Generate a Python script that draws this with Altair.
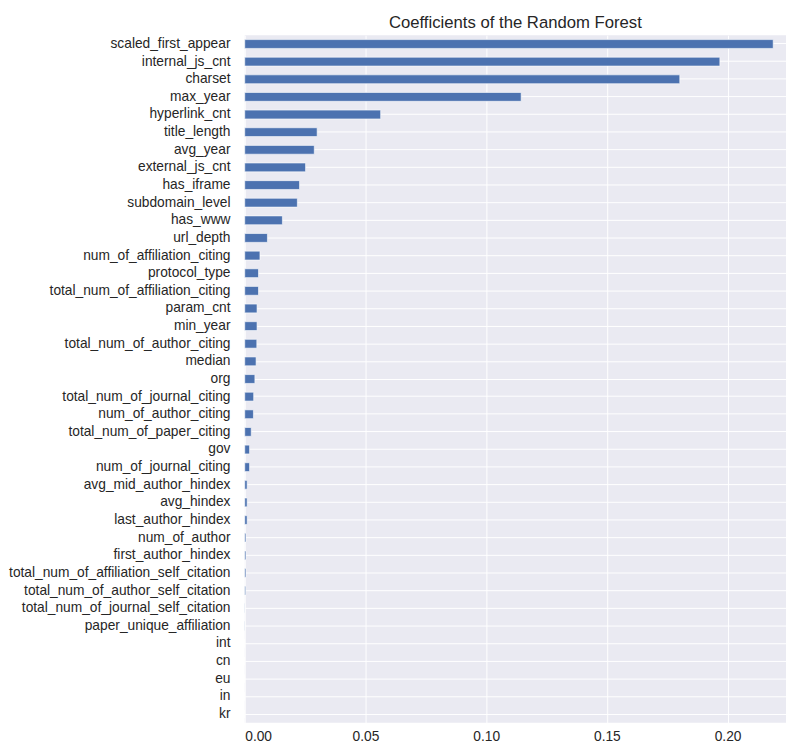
import altair as alt
import pandas as pd

features = [
    "scaled_first_appear", "internal_js_cnt", "charset", "max_year", "hyperlink_cnt",
    "title_length", "avg_year", "external_js_cnt", "has_iframe", "subdomain_level",
    "has_www", "url_depth", "num_of_affiliation_citing", "protocol_type",
    "total_num_of_affiliation_citing", "param_cnt", "min_year",
    "total_num_of_author_citing", "median", "org", "total_num_of_journal_citing",
    "num_of_author_citing", "total_num_of_paper_citing", "gov", "num_of_journal_citing",
    "avg_mid_author_hindex", "avg_hindex", "last_author_hindex", "num_of_author",
    "first_author_hindex", "total_num_of_affiliation_self_citation",
    "total_num_of_author_self_citation", "total_num_of_journal_self_citation",
    "paper_unique_affiliation", "int", "cn", "eu", "in", "kr",
]
importances = [
    0.2189, 0.1968, 0.1802, 0.1145, 0.0563,
    0.0300, 0.0288, 0.0252, 0.0227, 0.0218,
    0.0156, 0.0094, 0.0063, 0.0057,
    0.0057, 0.0051, 0.0051,
    0.0050, 0.0047, 0.0042, 0.0037,
    0.0036, 0.0027, 0.0020, 0.0020,
    0.0010, 0.0010, 0.0010, 0.0005,
    0.0005, 0.0005,
    0.0004, 0.0001,
    0.0001, 0.0, 0.0, 0.0, 0.0, 0.0,
]

df = pd.DataFrame({"feature": features, "importance": importances})

chart = alt.Chart(df).mark_bar(
    color="#4C72B0", stroke="white", strokeWidth=0.6
).encode(
    x=alt.X(
        "importance:Q",
        scale=alt.Scale(domain=[0, 0.2242], nice=False, zero=True),
        axis=alt.Axis(
            title=None, values=[0, 0.05, 0.10, 0.15, 0.20], format=".2f",
            ticks=False, domain=False, labelPadding=7, gridColor="white",
            gridWidth=1, labelFont="Liberation Sans", labelFontSize=14,
            labelColor="#262626",
        ),
    ),
    y=alt.Y(
        "feature:N",
        sort=features,
        scale=alt.Scale(paddingInner=0.5, paddingOuter=0.25),
        axis=alt.Axis(
            title=None, ticks=False, domain=False, labelPadding=15,
            bandPosition=0.5, gridColor="white", gridWidth=1, grid=True,
            labelFont="Liberation Sans", labelFontSize=14, labelColor="#262626",
            labelLimit=400,
        ),
    ),
).properties(
    width=792,
    height=742,
    autosize=alt.AutoSizeParams(type="fit", contains="padding"),
    padding={"left": 0, "right": 0, "top": 0, "bottom": 0},
    title=alt.TitleParams(
        "Coefficients of the Random Forest", font="Liberation Sans",
        fontSize=17, fontWeight="normal", color="#262626", offset=3,
    ),
).configure(
    background="white"
).configure_view(
    fill="#EAEAF2", stroke=None
)

chart.save("out.html", embed_options={"renderer": "svg", "actions": False})
